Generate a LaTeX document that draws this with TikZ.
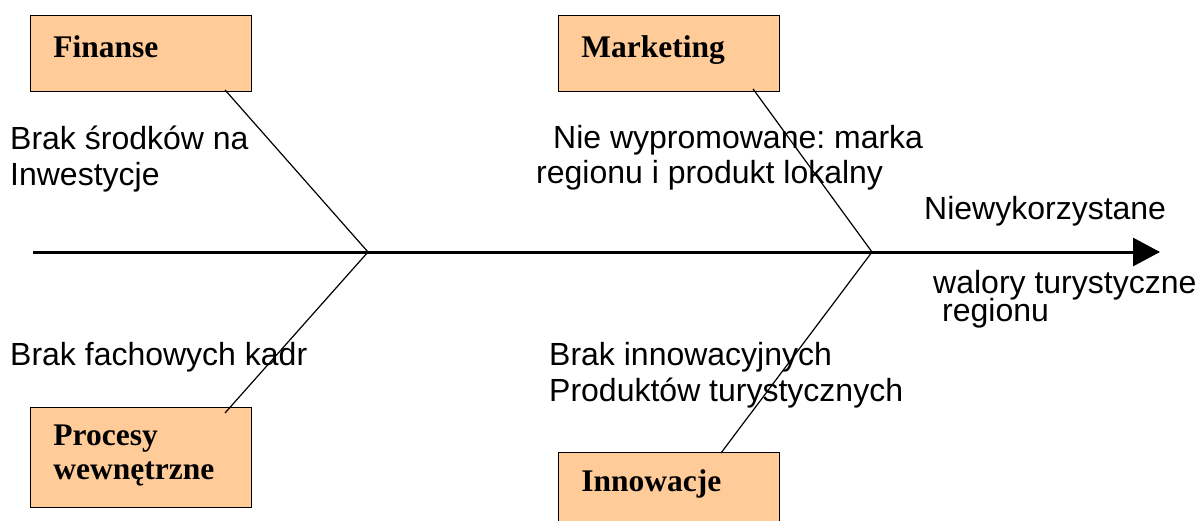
\documentclass[tikz,border=0pt]{standalone}
\usepackage{fontspec}
\setmainfont{Liberation Serif}
\setsansfont{Liberation Sans}
\usetikzlibrary{positioning,arrows.meta}
\definecolor{boxfill}{RGB}{255,204,153}
\frenchspacing

\begin{document}
\begin{tikzpicture}[x=1pt,y=-1pt,
   cause/.style={draw,fill=boxfill,line width=0.9pt,anchor=north west,
      inner xsep=23pt,inner ysep=0pt,text width=175pt,align=left,
      font=\fontsize{31.5}{34}\selectfont\bfseries},
   label/.style={anchor=base west,align=left,inner sep=0pt,
      font=\sffamily\fontsize{32}{36}\selectfont},
   bone/.style={line width=1.2pt}]
   \path[use as bounding box,clip] (0,0) rectangle (1197,520);
   % boxes
   \node[cause,text height=42pt,text depth=34pt] (fin) at (30,15) {Finanse};
   \node[cause,text height=42pt,text depth=34pt] (mkt) at (558,15) {Marketing};
   \node[cause,text height=38pt,text depth=62pt] (proc) at (30,407) {Procesy\\wewnętrzne};
   \node[cause,text height=39pt,text depth=61pt] (inno) at (558,452) {Innowacje};
   % causes (base = last line)
   \node[label] (l_fin) at (10,185) {Brak środków na\\Inwestycje};
   \node[label] (l_mkt) at (536,183) {\hspace*{17pt}Nie wypromowane: marka\\[-1pt]regionu i produkt lokalny};
   \node[label] (l_proc) at (10,365) {Brak fachowych kadr};
   \node[label] (l_inno) at (549,401) {Brak innowacyjnych\\Produktów turystycznych};
   % effect
   \node[label] (eff1) at (924,219) {Niewykorzystane};
   \node[label] (eff2) at (933,321) {walory turystyczne\\[-8pt]\hspace*{9pt}regionu};
   % spine
   \coordinate (tail) at (33,252);
   \coordinate (head) at (1160,252);
   \coordinate (j1) at (368,252);
   \coordinate (j2) at (872,252);
   \draw[line width=3pt,-{Triangle[length=27pt,width=28pt]}] (tail) -- (head);
   % bones
   \coordinate (fin_e) at ([xshift=195pt,yshift=2pt]fin.south west);
   \coordinate (mkt_e) at ([xshift=195pt,yshift=3pt]mkt.south west);
   \coordinate (proc_e) at ([xshift=195pt,yshift=-6pt]proc.north west);
   \coordinate (inno_e) at ([xshift=163pt,yshift=-1pt]inno.north west);
   \draw[bone] (fin_e) -- (j1) -- (proc_e);
   \draw[bone] (mkt_e) -- (j2) -- (inno_e);
\end{tikzpicture}
\end{document}
